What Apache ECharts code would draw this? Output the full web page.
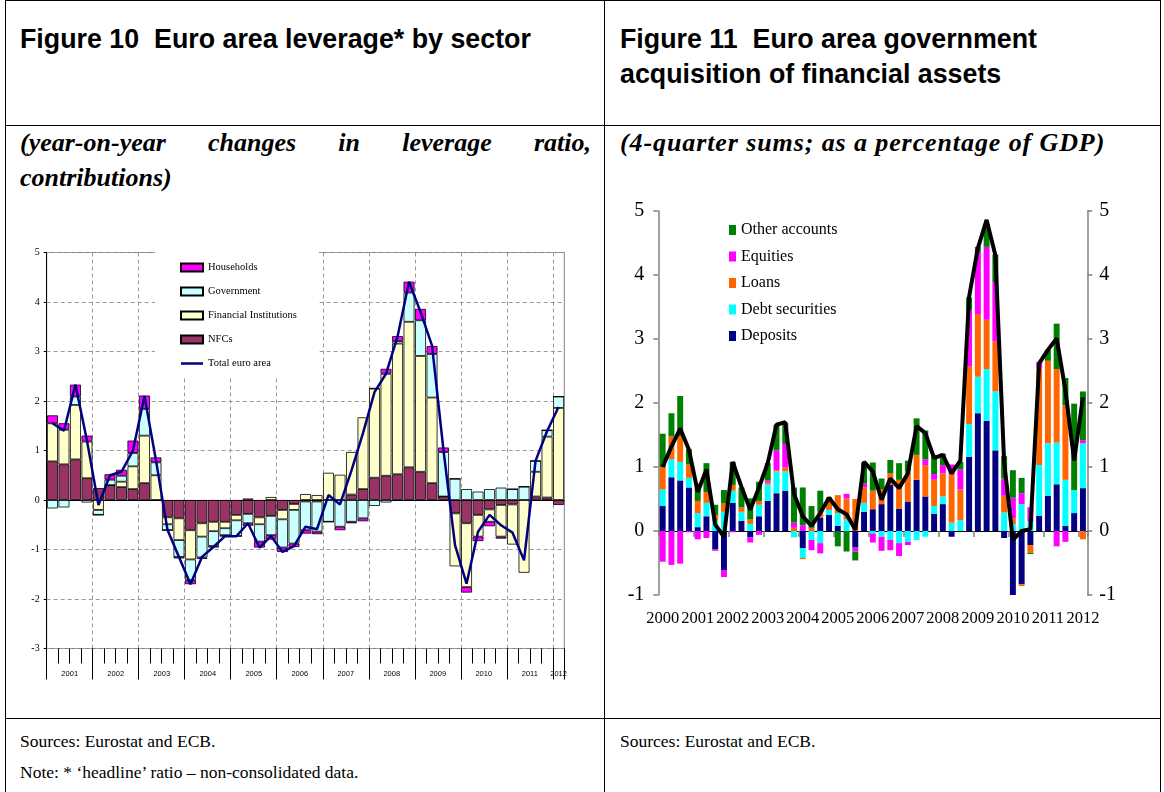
<!DOCTYPE html>
<html>
<head>
<meta charset="utf-8">
<title>Euro area leverage / government acquisition of financial assets</title>
<script src="https://cdn.jsdelivr.net/npm/echarts@6.0.0/dist/echarts.min.js"></script>
<style>
  body { margin: 0; background: #fff; }
  #page { position: relative; width: 1164px; height: 792px; overflow: hidden; font-family: "Liberation Serif", serif; color: #000; }
  .hl { position: absolute; height: 1px; background: #000; }
  .vl { position: absolute; width: 1px; background: #000; }
  .title { position: absolute; font-family: "Liberation Sans", Arial, sans-serif; font-weight: bold; font-size: 26.8px; line-height: 35px; white-space: nowrap; }
  .sub { position: absolute; font-weight: bold; font-style: italic; font-size: 26px; line-height: 35px; white-space: nowrap; }
  .src { position: absolute; font-size: 17.5px; line-height: 31px; white-space: nowrap; }
  .just { display: flex; justify-content: space-between; }
  #chart { position: absolute; left: 0; top: 0; width: 1164px; height: 792px; }
</style>
</head>
<body>
<div id="page">
  <!-- table rules -->
  <div class="hl" style="left:5px; top:0px; width:1156px;"></div>
  <div class="hl" style="left:5px; top:125px; width:1156px;"></div>
  <div class="hl" style="left:5px; top:718px; width:1156px;"></div>
  <div class="vl" style="left:5px; top:0px; height:792px;"></div>
  <div class="vl" style="left:604px; top:0px; height:792px;"></div>
  <div class="vl" style="left:1160px; top:0px; height:792px;"></div>

  <div class="title" style="left:20px; top:22px;">Figure 10&nbsp; Euro area leverage* by sector</div>
  <div class="title" style="left:620px; top:22px;">Figure 11&nbsp; Euro area government<br>acquisition of financial assets</div>

  <div class="sub just" style="left:20px; top:125px; width:571px;">
    <span>(year-on-year</span><span>changes</span><span>in</span><span>leverage</span><span>ratio,</span>
  </div>
  <div class="sub" style="left:20px; top:160px;">contributions)</div>
  <div class="sub" style="left:620px; top:125px; letter-spacing:0.9px;">(4-quarter sums; as a percentage of GDP)</div>

  <div class="src" style="left:20px; top:726px;">Sources: Eurostat and ECB.<br>Note: * ‘headline’ ratio – non-consolidated data.</div>
  <div class="src" style="left:620px; top:726px;">Sources: Eurostat and ECB.</div>

  <div id="chart"></div>
</div>
<script>
// ---- Figure 10: year-on-year changes in leverage ratio, contributions (2001Q1-2012Q1)
var yearsL = ['2001','2002','2003','2004','2005','2006','2007','2008','2009','2010','2011','2012'];
var nfc = [0.78,0.72,0.82,0.44, 0.24,0.30,0.26,0.22, 0.34,0,-0.35,-0.37, -0.61,-0.47,-0.44,-0.44,
           -0.30,-0.28,-0.35,-0.32, -0.20,-0.08,-0.03,-0.03, 0,0,0.11,0.22, 0.45,0.49,0.52,0.66,
           0.57,0.34,0.07,-0.27, -0.47,-0.30,-0.19,-0.10, -0.09,0,0.07,0.05, -0.10];
var fin = [0.77,0.70,1.10,0.74, -0.20,0,0.11,0.46, 0.96,0.50,-0.14,-0.44, -0.59,-0.27,-0.19,-0.13,
           -0.11,0.03,-0.14,0.06, -0.19,-0.12,0.12,0.10, 0.55,0.51,0.86,1.45, 1.80,2.06,2.64,2.94,
           2.34,1.73,0,-1.07, -1.29,-0.44,-0.25,-0.64, -0.81,-1.47,0.50,1.23, 1.86];
var gov = [-0.17,-0.15,0.17,-0.05, -0.10,0.11,0.12,0.27, 0.54,0.26,-0.12,-0.34, -0.42,-0.42,-0.30,-0.14,
           -0.32,-0.19,-0.35,-0.39, -0.57,-0.68,-0.58,-0.61, -0.44,-0.54,-0.44,-0.37, -0.12,-0.05,0.05,0.59,
           0.72,0.88,0.90,0.43, 0.22,0.17,0.22,0.25, 0.22,0.27,0.22,0.13, 0.23];
var hh  = [0.16,0.13,0.24,0.12, 0,0.11,0.12,0.25, 0.27,0.10,0,-0.03, -0.08,-0.03,-0.03,-0.03,
           0,-0.05,-0.12,-0.09, -0.09,-0.07,-0.07,-0.05, 0,-0.07,-0.03,-0.06, 0.01,0.10,0.10,0.22,
           0.23,0.16,0.09,0, -0.11,-0.09,-0.09,-0.04, 0,0,0,0, 0];
var totalL = [1.55,1.40,2.33,1.20, -0.10,0.50,0.57,1.00, 2.10,0.80,-0.60,-1.15, -1.70,-1.15,-0.95,-0.73,
              -0.73,-0.47,-0.96,-0.73, -1.05,-0.93,-0.54,-0.59, 0.10,-0.09,0.60,1.35, 2.18,2.55,3.30,4.41,
              3.80,3.12,1.00,-0.91, -1.69,-0.64,-0.30,-0.51, -0.66,-1.22,0.79,1.39, 1.88];

// ---- Figure 11: 4-quarter sums, % of GDP (2000Q1-2012Q1)
var yearsR = ['2000','2001','2002','2003','2004','2005','2006','2007','2008','2009','2010','2011','2012'];
var deposits = [0.39,0.84,0.79,0.68, 0.06,0.23,-0.29,-0.61, 0.44,0.16,-0.10,0.23, 0.47,0.59,0.63,0,
                -0.27,0,0.21,0.25, 0.08,0,-0.26,0.30, 0.34,0.42,0.72,0.35, 0.46,0.80,0.54,0.27,
                0.42,-0.09,0,1.16, 1.84,1.72,1.26,-0.11, -1.03,-0.83,-0.22,0.24, 0.55,0.73,0.08,0.28, 0.67];
var debtSec = [0.26,0.28,0.29,0.15, 0.22,0.21,0.17,0.30, 0.19,0.14,0.11,0.18, 0.26,0.34,0.30,-0.10,
               -0.15,-0.14,-0.19,0.08, 0.20,0.18,0,0.14, -0.04,-0.09,-0.14,-0.19, -0.17,-0.14,-0.09,0.12,
               0.12,0.13,0.17,0.51, 0.57,0.81,0.92,0.29, 0.11,0.42,0.15,0.79, 0.82,0.65,0.72,0.36, 0.70];
var loans = [0.35,0.36,0.40,0.21, 0.19,0.17,0.08,0.13, 0.09,0.07,0.07,0.06, 0.03,0.02,0.06,0.05,
             -0.02,0.05,0.09,0.20, 0.28,0.33,0.50,0.24, 0.29,0.23,0.18,0.45, 0.47,0.39,0.49,0.41,
             0.36,0.75,0.48,0.90, 0.98,0.77,0.78,0.26, 0.09,-0.03,-0.12,1.51, 1.29,1.15,1.17,0, -0.13];
var equities = [-0.48,-0.53,-0.51,-0.02, -0.13,-0.11,-0.02,-0.11, -0.02,0,-0.08,-0.06, 0.03,0.31,0.37,0.08,
                0.09,-0.16,-0.16,0, 0,0.07,-0.06,0.06, -0.14,-0.22,-0.16,-0.20, -0.05,0,0.09,0.09,
                0.13,0.16,0.31,0.88, 0.97,1.14,0.93,0.27, 0.32,0.17,0.22,0.10, 0,-0.24,-0.17,0, 0.05];
var otherAcc = [0.52,0.36,0.63,0.24, 0.27,0.45,0.16,0.21, 0.36,0.31,0.33,0.30, 0.27,0.40,0.33,0.55,
                0.59,0.34,0.33,0, -0.24,-0.32,-0.14,0.33, 0.44,0.17,0.21,0.26, 0.17,0.57,0.45,0.30,
                0.18,0,0.12,0.20, 0.08,0.36,0.43,0.35, 0.43,0.24,-0.02,0, 0.17,0.71,0.42,1.35, 0.76];
var totalR = [1.00,1.32,1.60,1.27, 0.61,0.96,0.10,-0.09, 1.08,0.69,0.33,0.68, 1.06,1.66,1.70,0.58,
              0.23,0.08,0.28,0.52, 0.34,0.26,0.02,1.08, 0.93,0.49,0.82,0.67, 0.90,1.64,1.53,1.14,
              1.19,0.90,1.10,3.66, 4.42,4.86,4.31,1.08, -0.14,0.00,0.03,2.62, 2.83,3.01,2.20,1.10, 2.09];

// quarter categories (last year has only Q1)
function quarters(years) {
  var out = [];
  years.forEach(function (y, i) {
    var n = (i === years.length - 1) ? 1 : 4;
    for (var q = 1; q <= n; q++) out.push(y + 'Q' + q);
  });
  return out;
}
var catL = quarters(yearsL);
var catR = quarters(yearsR);

var serif = '"Liberation Serif", "Times New Roman", serif';
var sans = '"Liberation Sans", Arial, sans-serif';
var yearEdge = function (i) { return i % 4 === 0; };

var chart = echarts.init(document.getElementById('chart'));
var option = {
  animation: false,
  grid: [
    { left: 46.7, top: 252.5, width: 517.6, height: 396, show: true, borderColor: '#808080', borderWidth: 1, backgroundColor: 'transparent' },
    { left: 658.3, top: 211, width: 429, height: 384 }
  ],
  xAxis: [
    // 0: left bars, zero line
    { type: 'category', gridIndex: 0, data: catL, axisLine: { onZero: true, lineStyle: { color: '#000', width: 1 } },
      axisTick: { show: false }, axisLabel: { show: false }, splitLine: { show: false } },
    // 1: left quarter ticks
    { type: 'category', gridIndex: 0, data: catL, position: 'bottom', axisLine: { show: false, onZero: false },
      axisTick: { show: true, interval: 0, length: 15, lineStyle: { color: '#000' } }, axisLabel: { show: false } },
    // 2: left year ticks + vertical grid
    { type: 'category', gridIndex: 0, data: catL, position: 'bottom', axisLine: { show: false, onZero: false },
      axisTick: { show: true, interval: yearEdge, length: 31, lineStyle: { color: '#000' } }, axisLabel: { show: false },
      splitLine: { show: true, interval: function (i) { return i % 4 === 0 && i > 0; }, lineStyle: { color: '#9a9a9a', type: [4, 3] } } },
    // 3: left year labels, centred in each year
    { type: 'value', gridIndex: 0, min: 0, max: 45, interval: 0.5, position: 'bottom',
      axisLine: { show: false, onZero: false }, axisTick: { show: false }, splitLine: { show: false },
      axisLabel: { margin: 21, fontSize: 7.5, fontFamily: sans, color: '#000', showMinLabel: true, showMaxLabel: true,
        formatter: function (v) {
          if (Math.abs(v - 44.5) < 1e-6) return yearsL[11];
          var r = v % 4;
          if (Math.abs(r - 2) < 1e-6 && v < 44) return yearsL[(v - 2) / 4];
          return '';
        } } },
    // 4: right bars, zero line with year ticks
    { type: 'category', gridIndex: 1, data: catR, axisLine: { onZero: true, lineStyle: { color: '#000', width: 1.2 } },
      axisTick: { show: true, interval: yearEdge, length: 6, lineStyle: { color: '#808080', width: 1.5 } },
      axisLabel: { show: false }, splitLine: { show: false } },
    // 5: right year labels at bottom
    { type: 'category', gridIndex: 1, data: catR, position: 'bottom', axisLine: { show: false, onZero: false },
      axisTick: { show: false },
      axisLabel: { interval: yearEdge, margin: 15, fontSize: 16.5, fontFamily: serif, color: '#000',
        formatter: function (v) { return v.slice(0, 4); } } }
  ],
  yAxis: [
    { type: 'value', gridIndex: 0, min: -3, max: 5, interval: 1,
      axisLine: { show: true, onZero: false, lineStyle: { color: '#000' } },
      axisTick: { show: true, length: 3, lineStyle: { color: '#000' } },
      axisLabel: { margin: 7, fontSize: 10, fontFamily: serif, color: '#000' },
      splitLine: { show: true, lineStyle: { color: '#9a9a9a', type: [4, 3] } } },
    { type: 'value', gridIndex: 1, min: -1, max: 5, interval: 1, position: 'left',
      axisLine: { show: true, onZero: false, lineStyle: { color: '#808080', width: 1.5 } },
      axisTick: { show: true, length: 5, lineStyle: { color: '#808080', width: 1.5 } },
      axisLabel: { margin: 14, fontSize: 20, fontFamily: serif, color: '#000' },
      splitLine: { show: false } },
    { type: 'value', gridIndex: 1, min: -1, max: 5, interval: 1, position: 'right',
      axisLine: { show: true, onZero: false, lineStyle: { color: '#808080', width: 1.5 } },
      axisTick: { show: true, length: 5, lineStyle: { color: '#808080', width: 1.5 } },
      axisLabel: { margin: 12, fontSize: 20, fontFamily: serif, color: '#000' },
      splitLine: { show: false } }
  ],
  legend: [
    { orient: 'vertical', left: 155, top: 252, padding: [10, 22, 7, 25], backgroundColor: '#fff',
      itemWidth: 22, itemHeight: 8, itemGap: 13, selectedMode: false,
      textStyle: { fontSize: 10.5, fontFamily: serif, color: '#000' },
      data: [{ name: 'Households', icon: 'rect' }, { name: 'Government', icon: 'rect' },
             { name: 'Financial Institutions', icon: 'rect' }, { name: 'NFCs', icon: 'rect' },
             { name: 'Total euro area', icon: 'path://M0,0H22V2.5H0Z' }] },
    { orient: 'vertical', left: 729, top: 222, padding: 0, itemWidth: 7, itemHeight: 10, itemGap: 10.5,
      selectedMode: false, icon: 'rect',
      textStyle: { fontSize: 16, fontFamily: serif, color: '#000' },
      data: ['Other accounts', 'Equities', 'Loans', 'Debt securities', 'Deposits'] }
  ],
  series: []
};

function barL(name, data, color) {
  return { name: name, type: 'bar', stack: 'L', xAxisIndex: 0, yAxisIndex: 0, data: data,
    barCategoryGap: '5%', itemStyle: { color: color, borderColor: '#000', borderWidth: 0.8 } };
}
function barR(name, data, color) {
  return { name: name, type: 'bar', stack: 'R', xAxisIndex: 4, yAxisIndex: 1, data: data,
    barCategoryGap: '32%', itemStyle: { color: color } };
}
option.series.push(
  barL('NFCs', nfc, '#993366'),
  barL('Financial Institutions', fin, '#FFFFCC'),
  barL('Government', gov, '#CCFFFF'),
  barL('Households', hh, '#FF00FF'),
  { name: 'Total euro area', type: 'line', xAxisIndex: 0, yAxisIndex: 0, data: totalL, symbol: 'none',
    lineStyle: { color: '#000080', width: 2.5 }, itemStyle: { color: '#000080' }, z: 5 },
  barR('Deposits', deposits, '#000080'),
  barR('Debt securities', debtSec, '#00FFFF'),
  barR('Loans', loans, '#FF6600'),
  barR('Equities', equities, '#FF00FF'),
  barR('Other accounts', otherAcc, '#008000'),
  { name: 'Total', type: 'line', xAxisIndex: 4, yAxisIndex: 1, data: totalR, symbol: 'none',
    lineStyle: { color: '#000', width: 4 }, z: 5 }
);
chart.setOption(option);
</script>
</body>
</html>
